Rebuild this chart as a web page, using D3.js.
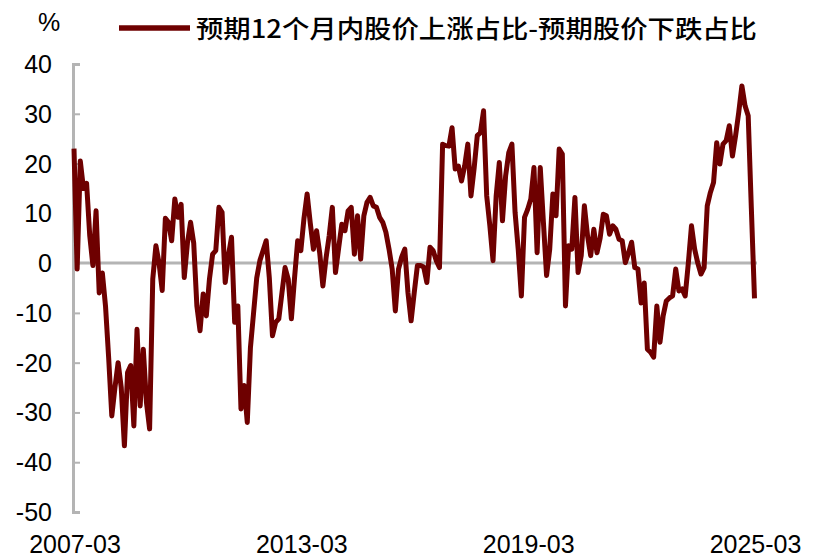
<!DOCTYPE html>
<html>
<head>
<meta charset="utf-8">
<script src="https://cdn.jsdelivr.net/npm/d3@7"></script>
<style>
body { margin: 0; background: #fff; }
</style>
</head>
<body>
<svg id="chart" width="827" height="557"></svg>
<script>
var seriesName = '预期12个月内股价上涨占比-预期股价下跌占比'
var startMonth = '2007-03'
var xTickLabels = ['2007-03', '2013-03', '2019-03', '2025-03']
var yTicks = [-50, -40, -30, -20, -10, 0, 10, 20, 30, 40]
var values = [
  23, -1.2, 20.5, 15, 16, 5.5, -0.5, 10.5, -6, -2,
  -8.6, -19, -30.7, -25, -20, -25, -36.7, -22, -20.6, -32.7,
  -13.3, -28.7, -17.3, -28, -33.3, -3.2, 3.5, 0, -5.5, 9,
  8.2, 4.5, 12.9, 9.2, 11.8, -2.9, 4, 8.2, 4, -8.6,
  -13.6, -6.2, -10.6, -3.2, 1.8, 2.5, 11.2, 10.2, -3.9, 1.5,
  5.2, -11.9, -8.6, -29.3, -24.6, -32, -17, -10, -3, 0.5,
  2.5, 4.5, -3, -14.6, -11.9, -11.2, -6, -0.9, -3.2, -11.2,
  -3, 4.5, 2.5, 9, 13.9, 8, 2.8, 6.5, 2, -4.6,
  1, 5.5, 11.2, -1.9, 3, 7.8, 6.5, 10.5, 11.2, 1.8,
  9.5, 0.8, 9.5, 12.2, 13.2, 11.5, 11.2, 9.2, 8.2, 6.2,
  2.8, -1.2, -9.6, -1.2, 1.2, 2.8, -5.9, -11.6, -5.9, -0.5,
  -0.5, -0.8, -3.9, 3.2, 2.5, 0.5, -0.9, 23.9, 23.6, 23.5,
  27.2, 18.9, 19.5, 16.5, 19.5, 23.9, 13.5, 19, 25.6, 26.2,
  30.6, 13.5, 7.5, 0.5, 13.5, 20.2, 8.5, 17.5, 22.2, 23.9,
  10.2, 2.8, -6.6, 9.2, 10.8, 12.9, 19.2, 2.1, 19.2, 8.2,
  -2.5, 2.8, 13.9, 9.5, 22.9, 21.9, -8.6, 3.5, 2.8, 13.2,
  -1.9, 1.5, 11.5, 5.5, 1.5, 6.8, 2.1, 5, 9.8, 9.5,
  5.8, 7.5, 6.8, 4.8, 4.5, 0.1, 2, 4.2, -0.9, -1.2,
  -8, -4, -17.3, -17.9, -18.9, -8.6, -15.9, -10.6, -7.6, -7,
  -6.6, -1.2, -5.6, -5.2, -6.6, 0, 7.5, 2.8, 0, -2.2,
  -0.9, 11.5, 14.2, 16.2, 24.2, 19.9, 23.9, 24.6, 27.6, 21.5,
  25.6, 30.3, 35.6, 31.6, 29.6, 11, -7.1
]

// month labels for every point
var months = []
var y0 = +startMonth.slice(0, 4), m0 = +startMonth.slice(5)
for (var i = 0; i < values.length; i++) {
  var mm = m0 - 1 + i
  var yy = y0 + Math.floor(mm / 12)
  months.push(yy + '-' + String(mm % 12 + 1).padStart(2, '0'))
}

var svg = d3.select('#chart')
var lineColor = '#6e0000'
var axisColor = '#b4b4b4'
var numFont = '"Liberation Sans", Arial, sans-serif'
var cjkFont = '"Noto Sans CJK SC", "Noto Sans", sans-serif'

var x = d3.scalePoint().domain(months).range([74, 754.5])
var y = d3.scaleLinear().domain([-50, 40]).range([512, 64])

// y axis with inner ticks
var yAxis = d3.axisRight(y).tickValues(yTicks).tickSize(7).tickFormat('')
var yg = svg.append('g').attr('transform', 'translate(73,0)').call(yAxis)
yg.select('.domain').attr('stroke', axisColor).attr('stroke-width', 3)
yg.selectAll('.tick line').attr('stroke', axisColor).attr('stroke-width', 2)

svg.append('g').selectAll('text.ylab').data(yTicks)
  .enter()
  .append('text')
  .attr('class', 'ylab')
  .attr('x', 52)
  .attr('y', function(d){ return y(d) + 9 })
  .attr('text-anchor', 'end')
  .attr('font-family', numFont)
  .attr('font-size', '25px')
  .attr('fill', '#000')
  .text(function(d){ return d })

// zero line acting as category axis
svg.append('line')
  .attr('x1', 73).attr('x2', 757)
  .attr('y1', y(0)).attr('y2', y(0))
  .attr('stroke', axisColor)
  .attr('stroke-width', 3)

svg.append('g').selectAll('text.xlab').data(xTickLabels)
  .enter()
  .append('text')
  .attr('class', 'xlab')
  .attr('x', function(d){ return x(d) + 1 })
  .attr('y', 553)
  .attr('text-anchor', 'middle')
  .attr('font-family', numFont)
  .attr('font-size', '25px')
  .attr('fill', '#000')
  .text(function(d){ return d })

var line = d3.line()
  .x(function(d, i){ return x(months[i]) })
  .y(function(d){ return y(d) })

svg.append('path')
  .datum(values)
  .attr('d', line)
  .attr('fill', 'none')
  .attr('stroke', lineColor)
  .attr('stroke-width', 5)
  .attr('stroke-linejoin', 'round')

// unit and legend
svg.append('text')
  .attr('x', 49).attr('y', 31)
  .attr('text-anchor', 'middle')
  .attr('font-family', numFont)
  .attr('font-size', '25px')
  .text('%')

svg.append('line')
  .attr('x1', 119).attr('x2', 190)
  .attr('y1', 28).attr('y2', 28)
  .attr('stroke', lineColor)
  .attr('stroke-width', 5.5)

svg.append('text')
  .attr('x', 196).attr('y', 38)
  .attr('font-family', cjkFont)
  .attr('font-size', '25px')
  .attr('font-weight', 500)
  .attr('textLength', 561)
  .attr('lengthAdjust', 'spacingAndGlyphs')
  .attr('fill', '#000')
  .text(seriesName)
</script>
</body>
</html>
